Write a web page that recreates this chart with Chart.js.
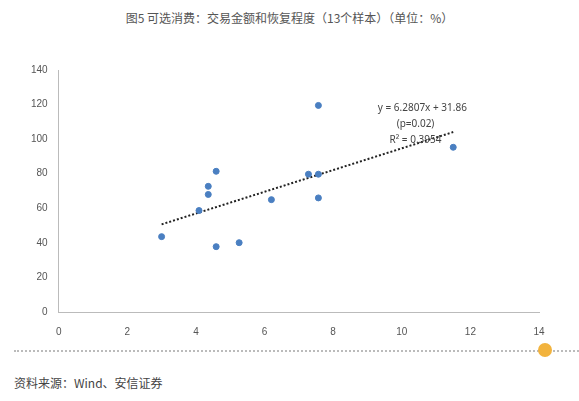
<!DOCTYPE html>
<html><head><meta charset="utf-8">
<script src="https://cdn.jsdelivr.net/npm/chart.js@4/dist/chart.umd.min.js"></script>
<style>
body{margin:0;width:579px;height:401px;background:#fff;font-family:"Noto Sans CJK SC","Noto Sans",sans-serif;position:relative;overflow:hidden}
#title{position:absolute;top:9px;left:0;width:579px;text-align:center;font-size:12px;color:#555}
#box{position:absolute;left:0;top:0;width:579px;height:344px}
#rule{position:absolute;top:350px;left:14px;width:565px;border-top:2px dotted #bbb}
#dot{position:absolute;top:343px;left:538px;width:14px;height:14px;border-radius:50%;background:#f2b33d}
#src{position:absolute;top:374px;left:14px;font-size:12px;color:#444}
</style></head><body>
<div id="title">图5 可选消费：交易金额和恢复程度（13个样本）（单位：%）</div>
<div id="box"><canvas id="c"></canvas></div>
<div id="rule"></div><div id="dot"></div>
<div id="src">资料来源：Wind、安信证券</div>
<script>
const xs = [3.0, 4.09, 4.36, 4.36, 4.59, 4.59, 5.26, 6.2, 7.28, 7.57, 7.57, 7.57, 11.5];
const ys = [43.6, 58.7, 72.7, 68, 81.4, 37.8, 40.1, 65, 79.7, 119.5, 79.7, 66, 95.3];
const trendX = [3.0, 11.5];
const trendY = [50.7, 104.1];
const fitLabels = ['y = 6.2807x + 31.86', '(p=0.02)', 'R² = 0.3954'];

const labelPlugin = {
  id: 'fit',
  afterDatasetsDraw(chart) {
    const ctx = chart.ctx, xa = chart.scales.x, ya = chart.scales.y;
    ctx.save();
    ctx.font = '10px "Noto Sans", sans-serif';
    ctx.fillStyle = '#444';
    ctx.textAlign = 'center';
    const cx = [10.6, 10.4, 10.4], cy = [116, 107, 98];
    fitLabels.forEach((t, i) => ctx.fillText(t, xa.getPixelForValue(cx[i]), ya.getPixelForValue(cy[i])));
    ctx.restore();
  }
};

new Chart(document.getElementById('c'), {
  type: 'scatter',
  data: {
    datasets: [
      { data: xs.map((x, i) => ({x, y: ys[i]})), backgroundColor: '#4a7fc1', borderColor: '#4a7fc1', pointRadius: 3 },
      { type: 'line', data: trendX.map((x, i) => ({x, y: trendY[i]})), borderColor: '#222', borderWidth: 2, borderDash: [2, 2], pointRadius: 0 }
    ]
  },
  options: {
    responsive: true, maintainAspectRatio: false, animation: false,
    layout: { padding: { left: 28, top: 70, right: 40, bottom: 0 } },
    plugins: { legend: { display: false }, tooltip: { enabled: false } },
    scales: {
      x: { min: 0, max: 14, ticks: { stepSize: 2, color: '#555', font: { size: 10 }, padding: 6 },
           grid: { display: false }, border: { color: '#bbb' } },
      y: { min: 0, max: 140, ticks: { stepSize: 20, color: '#555', font: { size: 10 } },
           grid: { display: false }, border: { color: '#bbb' } }
    }
  },
  plugins: [labelPlugin]
});
</script>
</body></html>
